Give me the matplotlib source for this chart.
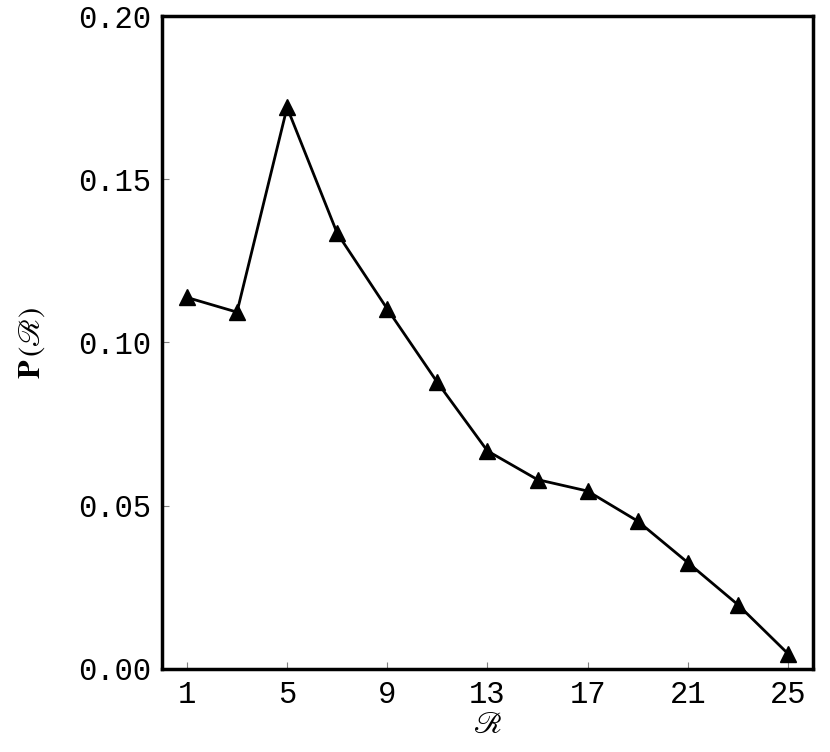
import matplotlib
matplotlib.use("Agg")
import matplotlib.pyplot as plt

plt.rcParams["mathtext.fontset"] = "stix"

r_vals = [1, 3, 5, 7, 9, 11, 13, 15, 17, 19, 21, 23, 25]
p_vals = [0.1138, 0.1093, 0.1720, 0.1335, 0.1103, 0.0878, 0.0668,
          0.0580, 0.0545, 0.0453, 0.0326, 0.0197, 0.0047]
x_ticks = [1, 5, 9, 13, 17, 21, 25]
y_ticks = [0.00, 0.05, 0.10, 0.15, 0.20]

fig = plt.figure(figsize=(8.3, 7.52), dpi=100)
ax = fig.add_axes([0.195, 0.1104, 0.7845, 0.8683])

ax.plot(r_vals, p_vals, color="black", lw=2, marker="^", ms=12,
        markerfacecolor="black", clip_on=False)

ax.set_xlim(0, 26)
ax.set_ylim(0, 0.20)
ax.set_xticks(x_ticks)
ax.set_yticks(y_ticks)
ax.set_yticklabels(["%.2f" % v for v in y_ticks])

for lab in ax.get_xticklabels() + ax.get_yticklabels():
    lab.set_family("Liberation Mono")
    lab.set_fontsize(22)

ax.tick_params(direction="in", length=5, width=0.8, color="gray", pad=8)
for s in ax.spines.values():
    s.set_linewidth(2.5)

ax.set_xlabel(r"$\mathscr{R}$", fontsize=22, labelpad=0)
ax.set_ylabel(r"$\mathbf{P}\,(\mathscr{R})$", fontsize=22, labelpad=22)

fig.savefig("out.png", dpi=100)
